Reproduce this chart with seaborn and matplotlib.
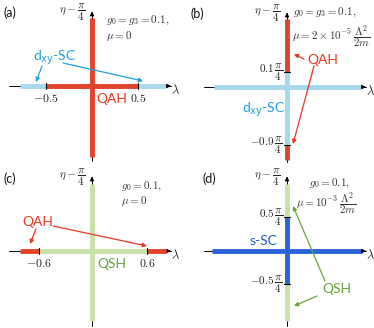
import matplotlib
matplotlib.use('Agg')
import matplotlib.pyplot as plt
import seaborn as sns
import pandas as pd

sns.set_style('white')
plt.rcParams['font.family'] = ['Lato', 'DejaVu Sans']
plt.rcParams['mathtext.fontset'] = 'cm'

# phase colours (line, text)
colors = {'QAH': '#e2432b', 'dxy': '#a6d8ee', 'QSH': '#c8e2a8', 'sSC': '#2a63d8'}
text_colors = {'QAH': '#e8381f', 'dxy': '#1ea2dc', 'QSH': '#6aa33a', 'sSC': '#2758cc'}

# schematic segments: (start, end, phase) along lambda (horizontal) and eta (vertical)
a_horiz = [(-0.78, 0.80, 'dxy'), (-0.5, 0.5, 'QAH')]
a_vert = [(-0.77, 0.74, 'QAH')]
a_lam_ticks = [-0.5, 0.5]
a_lam_labels = ['$-0.5$', '$0.5$']

b_horiz = [(-0.79, 0.80, 'dxy')]
b_vert = [(0.16, 0.74, 'QAH'), (-0.63, 0.16, 'dxy'), (-0.79, -0.63, 'QAH')]
b_eta_ticks = [0.16, -0.63]
b_eta_labels = [r'$0.1\,\dfrac{\pi}{4}$', r'$-0.9\,\dfrac{\pi}{4}$']

c_horiz = [(-0.78, -0.58, 'QAH'), (-0.58, 0.60, 'QSH'), (0.60, 0.80, 'QAH')]
c_vert = [(-0.76, 0.73, 'QSH')]
c_lam_ticks = [-0.58, 0.60]
c_lam_labels = ['$-0.6$', '$0.6$']

d_horiz = [(-0.82, 0.82, 'sSC')]
d_vert = [(-0.76, 0.73, 'QSH'), (-0.36, 0.37, 'sSC')]
d_eta_ticks = [0.37, -0.36]
d_eta_labels = [r'$0.5\,\dfrac{\pi}{4}$', r'$-0.5\,\dfrac{\pi}{4}$']

SCALE = 92.0  # px per unit
PW, PH = 187, 164

fig = plt.figure(figsize=(3.74, 3.28), dpi=100)


def panel(rect, origin, horiz, vert, lam_ticks=(), lam_labels=(), eta_ticks=(), eta_labels=()):
    ox, oy = origin
    ax = fig.add_axes(rect)
    ax.set_xlim(-ox / SCALE, (PW - ox) / SCALE)
    ax.set_ylim(-(PH - oy) / SCALE, oy / SCALE)
    ax.axis('off')
    # axes with arrows
    ax.plot([-0.9, 0.86], [0, 0], color='k', lw=0.7, zorder=1)
    ax.plot([0, 0], [-0.81, 0.8], color='k', lw=0.7, zorder=1)
    ax.annotate('', xy=(0.89, 0), xytext=(0.8, 0),
                arrowprops=dict(arrowstyle='-|>', color='k', lw=0.7, mutation_scale=6))
    ax.annotate('', xy=(0, 0.84), xytext=(0, 0.75),
                arrowprops=dict(arrowstyle='-|>', color='k', lw=0.7, mutation_scale=6))
    z = 2
    for s, e, ph in horiz:
        df = pd.DataFrame({'x': [s, e], 'y': [0, 0]})
        sns.lineplot(data=df, x='x', y='y', color=colors[ph], lw=3.5, ax=ax,
                     estimator=None, sort=False, zorder=z, solid_capstyle='butt')
        z += 1
    for s, e, ph in vert:
        df = pd.DataFrame({'x': [0, 0], 'y': [s, e]})
        sns.lineplot(data=df, x='x', y='y', color=colors[ph], lw=3.5, ax=ax,
                     estimator=None, sort=False, zorder=z, solid_capstyle='butt')
        z += 1
    for t, lab in zip(lam_ticks, lam_labels):
        ax.plot([t, t], [-0.035, 0.035], color='k', lw=0.8, zorder=20)
        ax.text(t, -0.07, lab, ha='center', va='top', fontsize=8.5, color='#222')
    for t, lab in zip(eta_ticks, eta_labels):
        ax.plot([-0.035, 0.035], [t, t], color='k', lw=0.8, zorder=20)
        ax.text(-0.045, t, lab, ha='right', va='center', fontsize=8, color='#222')
    ax.text(0.855, -0.045, r'$\lambda$', ha='left', va='center', fontsize=9)
    ax.text(-0.07, 0.8, r'$\eta-\dfrac{\pi}{4}$', ha='right', va='center', fontsize=8, color='#222')
    return ax


panel([0, 0.5, 0.5, 0.5], (92, 86), a_horiz, a_vert, a_lam_ticks, a_lam_labels)
panel([0.5, 0.5, 0.5, 0.5], (100, 87), b_horiz, b_vert, eta_ticks=b_eta_ticks, eta_labels=b_eta_labels)
panel([0, 0, 0.5, 0.5], (92, 87), c_horiz, c_vert, c_lam_ticks, c_lam_labels)
panel([0.5, 0, 0.5, 0.5], (100, 87), d_horiz, d_vert, eta_ticks=d_eta_ticks, eta_labels=d_eta_labels)

# overlay for labels and arrows, in pixel coordinates
ov = fig.add_axes([0, 0, 1, 1], zorder=50)
ov.set_xlim(0, 374)
ov.set_ylim(328, 0)
ov.axis('off')
ov.patch.set_alpha(0)


def arrow(x0, y0, x1, y1, c):
    ov.annotate('', xy=(x1, y1), xytext=(x0, y0),
                arrowprops=dict(arrowstyle='-|>', color=c, lw=0.9, mutation_scale=6,
                                shrinkA=0, shrinkB=0))


for x, y, lab in [(4, 13, '(a)'), (191, 14, '(b)'), (4, 179, '(c)'), (203, 179, '(d)')]:
    ov.text(x, y, lab, fontsize=9, ha='left', va='center', color='#111')

gc = '#333'
ov.text(106, 20, r'$g_0=g_3=0.1,$', fontsize=8, va='center', color=gc)
ov.text(106, 36, r'$\mu=0$', fontsize=8, va='center', color=gc)
ov.text(293, 12, r'$g_0=g_3=0.1,$', fontsize=8, va='center', color=gc)
ov.text(292, 37, r'$\mu=2\times10^{-5}\,\dfrac{\Lambda^2}{2m}$', fontsize=8, va='center', color=gc)
ov.text(121, 186, r'$g_0=0.1,$', fontsize=8, va='center', color=gc)
ov.text(121, 201, r'$\mu=0$', fontsize=8, va='center', color=gc)
ov.text(309, 183, r'$g_0=0.1,$', fontsize=8, va='center', color=gc)
ov.text(296, 204, r'$\mu=10^{-3}\,\dfrac{\Lambda^2}{2m}$', fontsize=8, va='center', color=gc)

# phase labels
ov.text(33, 58, r'd$_{\mathrm{xy}}$-SC', fontsize=10, va='center', color=text_colors['dxy'],
        math_fontfamily='dejavusans')
arrow(42, 66, 36, 82, text_colors['dxy'])
arrow(63, 63, 143, 81, text_colors['dxy'])
ov.text(96, 99, 'QAH', fontsize=10, va='center', color=text_colors['QAH'])

ov.text(307, 60, 'QAH', fontsize=10, va='center', color=text_colors['QAH'])
arrow(304, 59, 294, 54, text_colors['QAH'])
arrow(314, 66, 293, 144, text_colors['QAH'])
ov.text(242, 110, r'd$_{\mathrm{xy}}$-SC', fontsize=10, va='center', color=text_colors['dxy'],
        math_fontfamily='dejavusans')

ov.text(22, 222, 'QAH', fontsize=10, va='center', color=text_colors['QAH'])
arrow(36, 229, 30, 244, text_colors['QAH'])
arrow(53, 226, 147, 246, text_colors['QAH'])
ov.text(97, 264, 'QSH', fontsize=10, va='center', color=text_colors['QSH'])

ov.text(250, 241, 's-SC', fontsize=10, va='center', color=text_colors['sSC'])
ov.text(322, 289, 'QSH', fontsize=10, va='center', color=text_colors['QSH'])
arrow(325, 281, 293, 206, text_colors['QSH'])
arrow(317, 296, 294, 306, text_colors['QSH'])

fig.savefig('out.png', dpi=100)
